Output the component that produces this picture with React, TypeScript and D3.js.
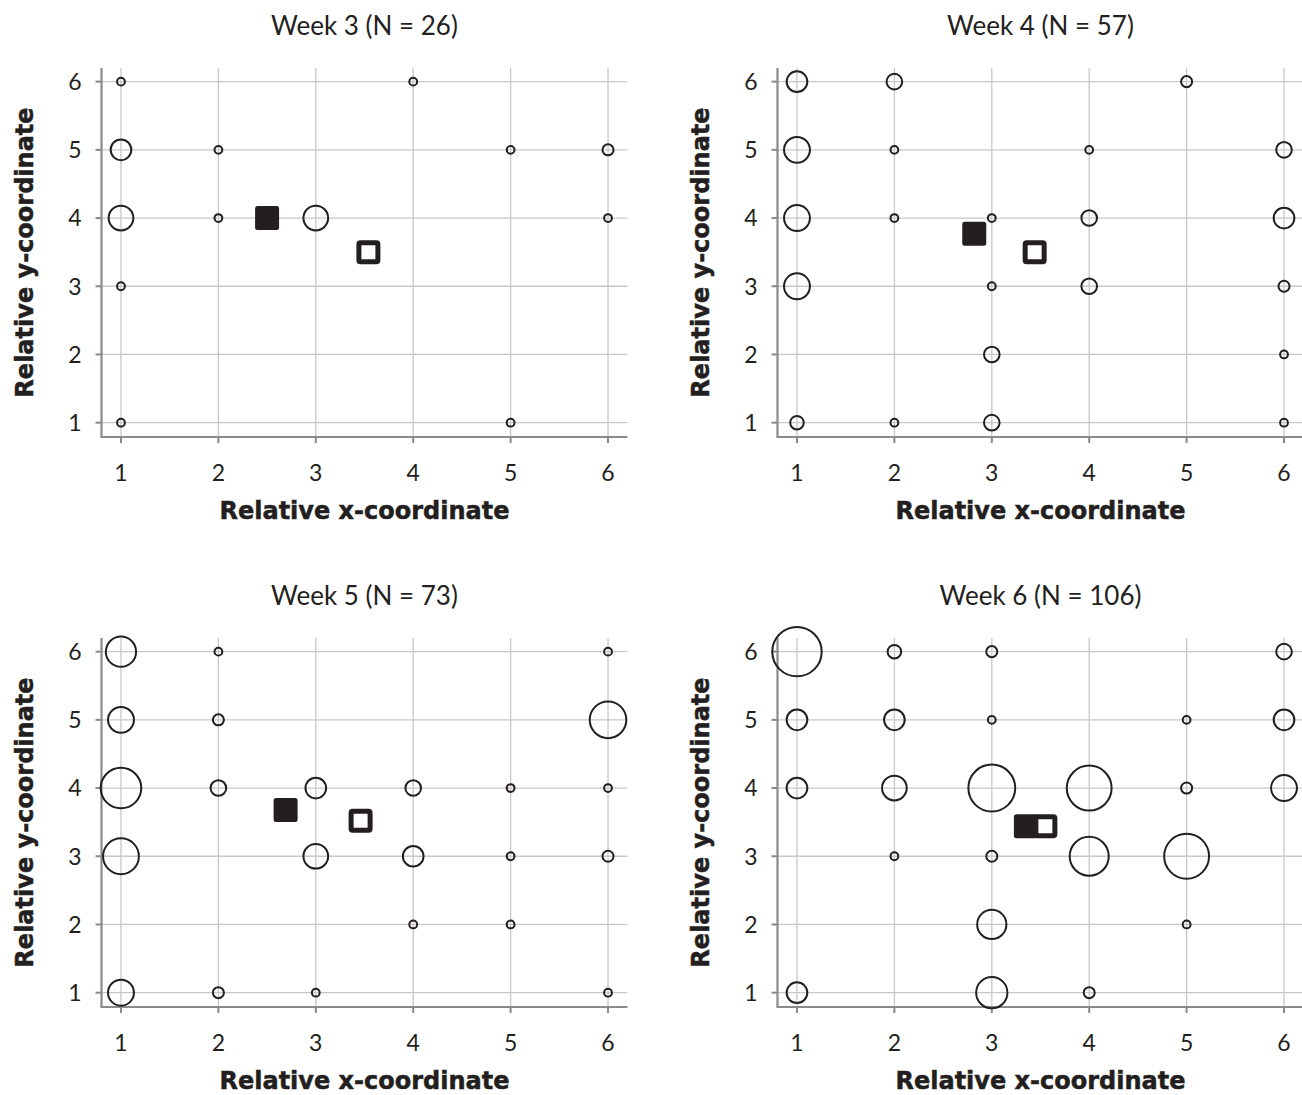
import React from 'react';
import * as d3 from 'd3';

// week panels
const weekNumbers = [3, 4, 5, 6];
const weekN = [26, 57, 73, 106];

const xTicks = [1, 2, 3, 4, 5, 6];
const yTicks = [1, 2, 3, 4, 5, 6];

// [x, y, count] for each bubble
const week3Bubbles = [
  [1, 6, 1], [4, 6, 1],
  [1, 5, 7], [2, 5, 1], [5, 5, 1], [6, 5, 2],
  [1, 4, 10], [2, 4, 1], [3, 4, 10], [6, 4, 1],
  [1, 3, 1],
  [1, 1, 1], [5, 1, 1],
];

const week4Bubbles = [
  [1, 6, 7], [2, 6, 4], [5, 6, 2],
  [1, 5, 11], [2, 5, 1], [4, 5, 1], [6, 5, 4],
  [1, 4, 11], [2, 4, 1], [3, 4, 1], [4, 4, 4], [6, 4, 7],
  [1, 3, 11], [3, 3, 1], [4, 3, 4], [6, 3, 2],
  [3, 2, 4], [6, 2, 1],
  [1, 1, 3], [2, 1, 1], [3, 1, 4], [6, 1, 1],
];

const week5Bubbles = [
  [1, 6, 15], [2, 6, 1], [6, 6, 1],
  [1, 5, 11], [2, 5, 2], [6, 5, 22],
  [1, 4, 27], [2, 4, 4], [3, 4, 7], [4, 4, 4], [5, 4, 1], [6, 4, 1],
  [1, 3, 21], [3, 3, 10], [4, 3, 7], [5, 3, 1], [6, 3, 2],
  [4, 2, 1], [5, 2, 1],
  [1, 1, 11], [2, 1, 2], [3, 1, 1], [6, 1, 1],
];

const week6Bubbles = [
  [1, 6, 40], [2, 6, 3], [3, 6, 2], [6, 6, 4],
  [1, 5, 7], [2, 5, 7], [3, 5, 1], [5, 5, 1], [6, 5, 7],
  [1, 4, 7], [2, 4, 10], [3, 4, 36], [4, 4, 33], [5, 4, 2], [6, 4, 11],
  [2, 3, 1], [3, 3, 2], [4, 3, 25], [5, 3, 33],
  [3, 2, 14], [5, 2, 1],
  [1, 1, 7], [3, 1, 16], [4, 1, 2],
];

// filled square and open square positions per week
const filledSquares = [[2.5, 4.0], [2.82, 3.77], [2.69, 3.68], [3.35, 3.44]];
const openSquares = [[3.54, 3.5], [3.44, 3.5], [3.46, 3.52], [3.55, 3.44]];

const allBubbles = [week3Bubbles, week4Bubbles, week5Bubbles, week6Bubbles];

const FONT = "Lato, 'Open Sans', sans-serif";
const BOLD = "'DejaVu Sans', Verdana, sans-serif";
const INK = '#231f20';

const W = 526;
const H = 369;

const x = d3.scaleLinear().domain([0.8, 6.2]).range([0, W]);
const y = d3.scaleLinear().domain([0.79, 6.2]).range([H, 0]);
const r = d3.scaleSqrt().domain([0, 40]).range([0, 24.7]);

const origins = [[101.5, 68], [777.5, 68], [101.5, 638], [777.5, 638]];

function Panel({ i }: { i: number }) {
  const [ox, oy] = origins[i];
  const bubbles = allBubbles[i];
  const [fx, fy] = filledSquares[i];
  const [px, py] = openSquares[i];
  return (
    <g transform={`translate(${ox},${oy})`}>
      {/* grid */}
      {xTicks.map(t => (
        <line key={'gx' + t} x1={x(t)} x2={x(t)} y1={0} y2={H} stroke="#c8c8c8" strokeWidth={1.3} />
      ))}
      {yTicks.map(t => (
        <line key={'gy' + t} x1={0} x2={W} y1={y(t)} y2={y(t)} stroke="#c8c8c8" strokeWidth={1.3} />
      ))}
      {/* axes */}
      <line x1={0} x2={0} y1={0} y2={H} stroke="#8a8a8a" strokeWidth={2.2} />
      <line x1={-1} x2={W} y1={H} y2={H} stroke="#8a8a8a" strokeWidth={2.2} />
      {yTicks.map(t => (
        <line key={'ty' + t} x1={-6} x2={0} y1={y(t)} y2={y(t)} stroke="#8a8a8a" strokeWidth={2} />
      ))}
      {xTicks.map(t => (
        <line key={'tx' + t} x1={x(t)} x2={x(t)} y1={H} y2={H + 6} stroke="#8a8a8a" strokeWidth={2} />
      ))}
      {yTicks.map(t => (
        <text key={'ly' + t} x={-20} y={y(t)} dy="0.36em" textAnchor="end" fontSize={23} fill={INK} fontFamily={FONT}>
          {t}
        </text>
      ))}
      {xTicks.map(t => (
        <text key={'lx' + t} x={x(t)} y={H + 44} textAnchor="middle" fontSize={23} fill={INK} fontFamily={FONT}>
          {t}
        </text>
      ))}
      {/* bubbles */}
      {bubbles.map(([bx, by, n], k) => (
        <circle key={k} cx={x(bx)} cy={y(by)} r={r(n)} fill="none" stroke={INK} strokeWidth={2} />
      ))}
      <rect x={x(fx) - 12} y={y(fy) - 12} width={24} height={24} rx={2.5} fill={INK} />
      <rect x={x(px) - 9.5} y={y(py) - 9.5} width={19} height={19} rx={1.5} fill="#fff" stroke={INK} strokeWidth={5} />
      {/* titles */}
      <text x={W / 2} y={-33} textAnchor="middle" fontSize={26} fill={INK} fontFamily={FONT}>
        {`Week ${weekNumbers[i]} (N = ${weekN[i]})`}
      </text>
      <text x={W / 2} y={H + 82} textAnchor="middle" fontSize={24} fontWeight="bold" fill={INK} stroke={INK} strokeWidth={0.5} fontFamily={BOLD}>
        Relative x-coordinate
      </text>
      <text transform={`translate(-69,${H / 2}) rotate(-90)`} textAnchor="middle" fontSize={24} fontWeight="bold" fill={INK} stroke={INK} strokeWidth={0.5} fontFamily={BOLD}>
        Relative y-coordinate
      </text>
    </g>
  );
}

export default function App() {
  return (
    <svg width={1302} height={1095} style={{ position: 'absolute', left: 0, top: 0, background: '#fff' }}>
      {weekNumbers.map((_, i) => (
        <Panel key={i} i={i} />
      ))}
    </svg>
  );
}
